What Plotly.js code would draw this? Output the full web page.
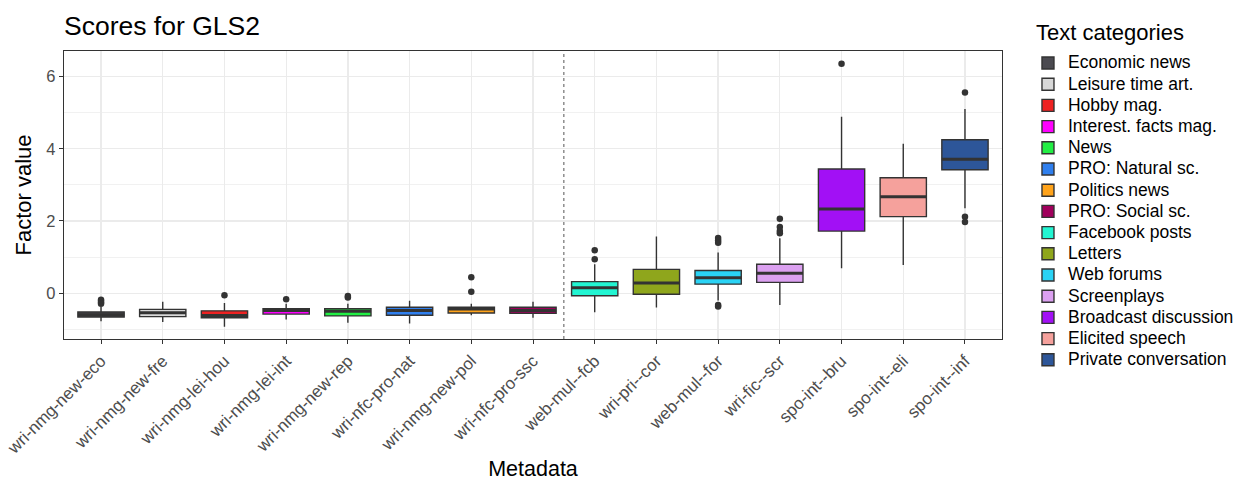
<!DOCTYPE html>
<html>
<head>
<meta charset="utf-8">
<script src="https://cdn.plot.ly/plotly-3.0.1.min.js"></script>
<style>
  html, body { margin: 0; padding: 0; background: #ffffff; }
  #chart { width: 1238px; height: 481px; }
</style>
</head>
<body>
<div id="chart"></div>
<script>
// ---- data ----
const categories = [
  "wri-nmg-new-eco", "wri-nmg-new-fre", "wri-nmg-lei-hou", "wri-nmg-lei-int",
  "wri-nmg-new-rep", "wri-nfc-pro-nat", "wri-nmg-new-pol", "wri-nfc-pro-ssc",
  "web-mul--fcb", "wri-pri--cor", "web-mul--for", "wri-fic--scr",
  "spo-int--bru", "spo-int--eli", "spo-int--inf"
];
const legendNames = [
  "Economic news", "Leisure time art.", "Hobby mag.", "Interest. facts mag.",
  "News", "PRO: Natural sc.", "Politics news", "PRO: Social sc.",
  "Facebook posts", "Letters", "Web forums", "Screenplays",
  "Broadcast discussion", "Elicited speech", "Private conversation"
];
const colors = [
  "#4b4a50", "#d8d8d8", "#ee2222", "#ff00ff",
  "#22ee44", "#2f7fee", "#ffa31a", "#a0005c",
  "#22f5d2", "#8fa61c", "#2ad3f5", "#dba0f0",
  "#a210f5", "#f5a19c", "#2d5699"
];
const lowerFence = [-0.78, -0.80, -0.93, -0.73, -0.82, -0.84, -0.61, -0.68, -0.53, -0.40, -0.20, -0.33, 0.69, 0.78, 2.35];
const q1Values   = [-0.66, -0.65, -0.68, -0.58, -0.63, -0.61, -0.55, -0.56, -0.07, -0.03, 0.25, 0.30, 1.72, 2.12, 3.42];
const medians    = [-0.60, -0.54, -0.62, -0.48, -0.50, -0.48, -0.44, -0.48, 0.15, 0.28, 0.43, 0.55, 2.33, 2.67, 3.71];
const q3Values   = [-0.52, -0.45, -0.49, -0.43, -0.43, -0.39, -0.39, -0.39, 0.32, 0.66, 0.63, 0.80, 3.44, 3.20, 4.25];
const upperFence = [-0.38, -0.24, -0.27, -0.29, -0.29, -0.21, -0.29, -0.24, 0.80, 1.57, 1.13, 1.52, 4.89, 4.14, 5.10];
// outliers: category + value
const outlierCats = [
  "wri-nmg-new-eco", "wri-nmg-new-eco", "wri-nmg-new-eco", "wri-nmg-new-eco",
  "wri-nmg-lei-hou", "wri-nmg-lei-int", "wri-nmg-new-rep", "wri-nmg-new-rep",
  "wri-nmg-new-pol", "wri-nmg-new-pol",
  "web-mul--fcb", "web-mul--fcb",
  "web-mul--for", "web-mul--for", "web-mul--for", "web-mul--for", "web-mul--for",
  "wri-fic--scr", "wri-fic--scr", "wri-fic--scr", "wri-fic--scr",
  "spo-int--bru",
  "spo-int--inf", "spo-int--inf", "spo-int--inf"
];
const outlierVals = [
  -0.18, -0.22, -0.26, -0.29,
  -0.06, -0.17, -0.08, -0.12,
  0.44, 0.04,
  1.19, 0.94,
  1.53, 1.46, 1.40, -0.33, -0.37,
  2.06, 1.83, 1.72, 1.66,
  6.36,
  5.56, 2.12, 1.97
];
const yTickVals = [0, 2, 4, 6];
const titleText = "Scores for GLS2";
const xTitle = "Metadata";
const yTitle = "Factor value";
const legendTitle = "Text categories";

const BOX_WIDTH = 0.75;

// ---- traces ----
const traces = categories.map((cat, i) => ({
  type: "box",
  name: '<span style="font-size:17.5px">' + legendNames[i] + '</span>',
  x: [cat],
  q1: [q1Values[i]],
  median: [medians[i]],
  q3: [q3Values[i]],
  lowerfence: [lowerFence[i]],
  upperfence: [upperFence[i]],
  boxpoints: false,
  width: BOX_WIDTH,
  whiskerwidth: 0,
  fillcolor: colors[i],
  line: { color: "#333333", width: 1.4 },
  hoverinfo: "skip"
}));

traces.push({
  type: "scatter",
  mode: "markers",
  x: outlierCats,
  y: outlierVals,
  marker: { color: "#333333", size: 6.5 },
  showlegend: false,
  hoverinfo: "skip"
});

const FONT = "Liberation Sans, Arial, Helvetica, sans-serif";

// thicker median bars (ggplot style), positioned through the category axis
const medianShapes = medians.map((m, i) => ({
  type: "line",
  xref: "x", yref: "y",
  x0: i - BOX_WIDTH / 2, x1: i + BOX_WIDTH / 2,
  y0: m, y1: m,
  line: { color: "#333333", width: 3 },
  layer: "above"
}));

const layout = {
  width: 1238,
  height: 481,
  margin: { l: 64, r: 236, t: 51, b: 142, autoexpand: false },
  paper_bgcolor: "#ffffff",
  plot_bgcolor: "#ffffff",
  font: { family: FONT, color: "#000000" },
  boxmode: "overlay",
  title: {
    text: titleText,
    font: { family: FONT, size: 26.5, color: "#000000" },
    x: 0, xref: "paper", xanchor: "left",
    y: 0.946, yref: "container", yanchor: "middle"
  },
  xaxis: {
    type: "category",
    categoryorder: "array",
    categoryarray: categories,
    range: [-0.6, 14.6],
    tickangle: -45,
    tickfont: { family: FONT, size: 17, color: "#4d4d4d" },
    ticks: "outside",
    ticklen: 4,
    tickwidth: 1,
    tickcolor: "#333333",
    showgrid: true,
    gridcolor: "#ebebeb",
    gridwidth: 1.3,
    showline: true,
    linecolor: "#333333",
    linewidth: 1.3,
    mirror: true,
    zeroline: false,
    title: { text: xTitle, font: { family: FONT, size: 21.5, color: "#000000" }, standoff: 10 }
  },
  yaxis: {
    range: [-1.27, 6.71],
    tickvals: yTickVals,
    ticktext: yTickVals.map(String),
    tickfont: { family: FONT, size: 16.5, color: "#4d4d4d" },
    ticks: "outside",
    ticklen: 4,
    tickwidth: 1,
    tickcolor: "#333333",
    showgrid: true,
    gridcolor: "#ebebeb",
    gridwidth: 1.3,
    minor: { dtick: 1, tick0: 1, showgrid: true, gridcolor: "#ebebeb", gridwidth: 0.7, ticks: "" },
    showline: true,
    linecolor: "#333333",
    linewidth: 1.3,
    mirror: true,
    zeroline: false,
    title: { text: yTitle, font: { family: FONT, size: 22, color: "#000000" }, standoff: 8 }
  },
  legend: {
    font: { family: FONT, size: 14, color: "#000000" },
    x: 1.0277, xanchor: "left",
    y: 1.0125, yanchor: "top",
    maxheight: 470,
    bgcolor: "rgba(0,0,0,0)",
    traceorder: "normal",
    itemclick: false
  },
  annotations: [{
    text: legendTitle,
    xref: "paper", yref: "paper",
    x: 1.0345, xanchor: "left",
    y: 1.0656, yanchor: "middle",
    showarrow: false,
    font: { family: FONT, size: 22, color: "#000000" }
  }],
  shapes: [{
    type: "line",
    xref: "x", yref: "paper",
    x0: 7.5, x1: 7.5, y0: 0, y1: 1,
    line: { color: "#555555", width: 1, dash: "dot" }
  }].concat(medianShapes)
};

Plotly.newPlot("chart", traces, layout, { staticPlot: true, displayModeBar: false });
</script>
</body>
</html>
